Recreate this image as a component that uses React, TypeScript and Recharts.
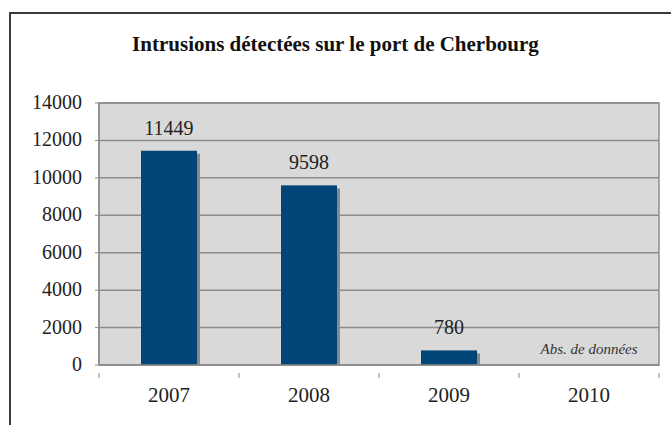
import { BarChart, Bar, XAxis, YAxis, CartesianGrid, LabelList, ReferenceArea, ReferenceDot } from "recharts";

const years = ["2007", "2008", "2009", "2010"];
const intrusions: (number | null)[] = [11449, 9598, 780, null];
const yTicks = [0, 2000, 4000, 6000, 8000, 10000, 12000, 14000];

const data = years.map((year, i) => ({ year, value: intrusions[i] }));

const FONT = "Liberation Serif, Times New Roman, serif";
const BAR = "#004478";
const SHADOW = "#8a8a8a";
const GRID = "#8c8c8c";
const INK = "#222";

// bar with a small grey drop shadow on its right side
function ShadowBar(props: any) {
  const { x, y, width, height } = props;
  if (!height || height <= 0) return null;
  const d = 3;
  return (
    <g>
      <rect x={x + d} y={y + d} width={width} height={Math.max(0, height - d)} fill={SHADOW} />
      <rect x={x} y={y} width={width} height={height} fill={BAR} />
    </g>
  );
}

// year label plus a tick mark on the left edge of each band
function YearTick(props: any) {
  const { x, y, payload, index } = props;
  const half = payload?.offset ?? 70;
  return (
    <g>
      <line x1={x - half} y1={y} x2={x - half} y2={y + 5} stroke={GRID} />
      {index === years.length - 1 && <line x1={x + half} y1={y} x2={x + half} y2={y + 5} stroke={GRID} />}
      <text x={x} y={y + 29} textAnchor="middle" fontSize={21} fontFamily={FONT} fill={INK}>
        {payload.value}
      </text>
    </g>
  );
}

function ValueTick(props: any) {
  const { x, y, payload } = props;
  return (
    <text x={x} y={y + 6} textAnchor="end" fontSize={20} fontFamily={FONT} fill={INK}>
      {payload.value}
    </text>
  );
}

function BarValue(props: any) {
  const { x, y, width, value } = props;
  if (value == null) return null;
  return (
    <text x={x + width / 2} y={y - 16} textAnchor="middle" fontSize={20} fontFamily={FONT} fill={INK}>
      {value}
    </text>
  );
}

export default function App() {
  return (
    <div
      style={{
        position: "fixed",
        left: 0,
        top: 0,
        width: 671,
        height: 425,
        background: "#fff",
        overflow: "hidden",
        fontFamily: FONT,
      }}
    >
      <div
        style={{
          position: "absolute",
          left: 9,
          top: 12,
          width: 700,
          height: 450,
          border: "2px solid #3a3a3a",
          boxSizing: "border-box",
        }}
      />
      <div
        style={{
          position: "absolute",
          left: 0,
          width: 671,
          top: 32,
          textAlign: "center",
          fontWeight: "bold",
          fontSize: 21,
          color: "#111",
        }}
      >
        Intrusions détectées sur le port de Cherbourg
      </div>
      <div style={{ position: "absolute", left: 0, top: 0 }}>
        <BarChart
          width={671}
          height={425}
          data={data}
          margin={{ top: 103, right: 12, left: 0, bottom: 0 }}
          barCategoryGap="30%"
        >
          <CartesianGrid vertical={false} stroke={GRID} strokeWidth={1.5} fill="#d9d9d9" />
          <XAxis
            dataKey="year"
            axisLine={{ stroke: GRID, strokeWidth: 1.5 }}
            tickLine={false}
            tick={<YearTick />}
            interval={0}
            height={60}
          />
          <YAxis
            width={99}
            domain={[0, 14000]}
            ticks={yTicks}
            interval={0}
            tickSize={4}
            tickMargin={13}
            axisLine={{ stroke: GRID, strokeWidth: 1.5 }}
            tickLine={{ stroke: GRID }}
            tick={<ValueTick />}
          />
          <ReferenceArea y1={0} y2={14000} fill="none" stroke={GRID} strokeWidth={1.5} />
          <Bar dataKey="value" shape={<ShadowBar />} isAnimationActive={false}>
            <LabelList dataKey="value" content={<BarValue />} />
          </Bar>
          <ReferenceDot
            x="2010"
            y={850}
            r={0}
            fill="none"
            stroke="none"
            label={{
              value: "Abs. de données",
              position: "center",
              fontSize: 15,
              fontStyle: "italic",
              fontFamily: FONT,
              fill: "#333",
            }}
          />
        </BarChart>
      </div>
    </div>
  );
}
